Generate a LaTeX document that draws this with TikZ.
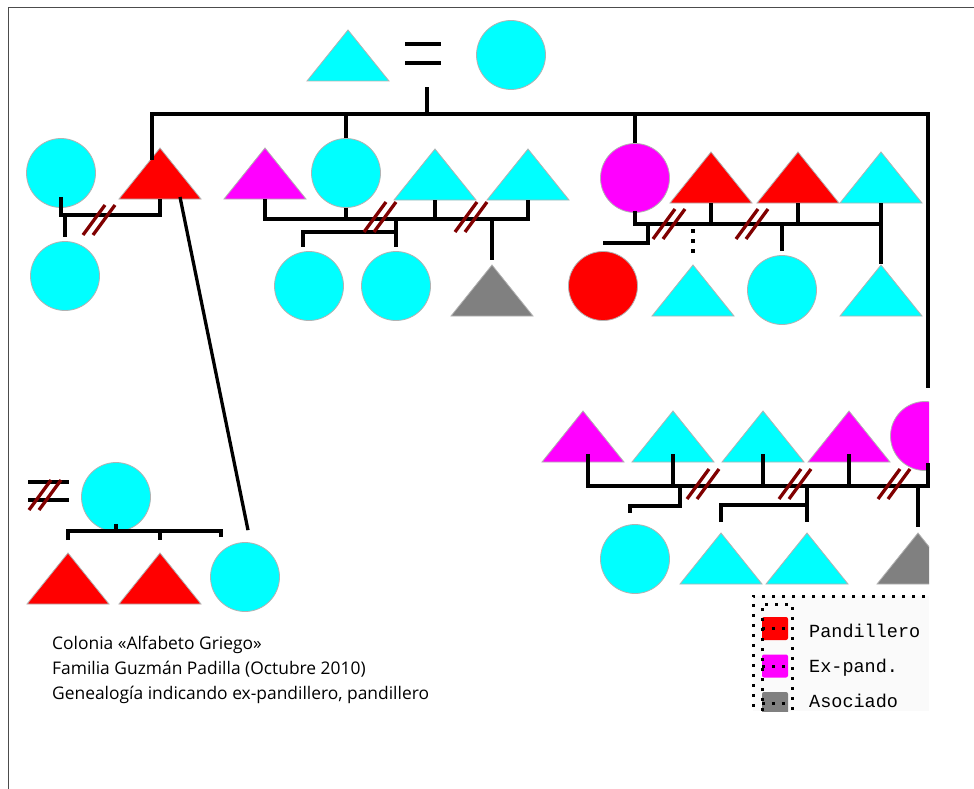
\documentclass[tikz,border=0pt]{standalone}
\usepackage{fontspec}
\usepackage{tikz}
\usetikzlibrary{calc}
\newfontfamily\capfont{Open Sans}
\newfontfamily\keyfont{Liberation Mono}
\definecolor{pcyan}{HTML}{00FFFF}
\definecolor{pred}{HTML}{FF0000}
\definecolor{pmag}{HTML}{FF00FF}
\definecolor{pgray}{HTML}{808080}
\definecolor{cutred}{HTML}{800000}

\tikzset{
    outline/.style={draw=gray!60, line width=0.8pt},
    person/.style={outline, circle, minimum size=69pt, inner sep=0pt},
    kin/.style={line width=3.3pt},
    cut/.style={line width=3.3pt, draw=cutred},
    legdots/.style={line width=3pt, dash pattern=on 3pt off 7pt},
    caption/.style={anchor=base west, inner sep=0pt, font=\capfont\fontsize{17.4}{20}\selectfont},
    keytext/.style={anchor=base west, inner sep=0pt, font=\keyfont\fontsize{18.5}{22}\selectfont},
    swatch/.style={fill=#1, rounded corners=2pt, minimum width=26pt, minimum height=23pt, inner sep=0pt},
    pics/split/.style={code={\draw[cut] (-16,15) -- (6,-15); \draw[cut] (-6,15) -- (16,-15);}}
}
% triangle: name, x, base y, colour
\newcommand{\persontri}[4]{%
    \draw[outline, fill=#4] (#2-41,#3) -- (#2,#3-51) -- (#2+41,#3) -- cycle;
    \coordinate (#1) at (#2,#3);
}

\begin{document}
\begin{tikzpicture}[x=1pt, y=-1pt]
    \useasboundingbox (0,0) rectangle (974,789);
    \draw[gray!60!black, line width=1pt] (8,789) -- (8,8) -- (974,8);

    % first couple
    \persontri{abuelo}{348}{81}{pcyan}
    \node[person, fill=pcyan] (abuela) at (511,55) {};
    \draw[kin, line width=3.6pt] (405,44) -- (441,44);
    \draw[kin, line width=3.6pt] (405,63) -- (441,63);

    % second generation
    \node[person, fill=pcyan] (g2a) at (61,173) {};
    \persontri{g2b}{160}{199}{pred}
    \persontri{g2c}{265}{199}{pmag}
    \node[person, fill=pcyan] (g2d) at (346,173) {};
    \persontri{g2e}{435}{200}{pcyan}
    \persontri{g2f}{528}{200}{pcyan}
    \node[person, fill=pmag] (g2g) at (635,178) {};
    \persontri{g2h}{711}{203}{pred}
    \persontri{g2i}{798}{203}{pred}
    \persontri{g2j}{881}{203}{pcyan}

    % third generation
    \node[person, fill=pcyan] (g3a) at (65,276) {};
    \node[person, fill=pcyan] (g3b) at (309,286) {};
    \node[person, fill=pcyan] (g3c) at (396,286) {};
    \persontri{g3d}{492}{316}{pgray}
    \node[person, fill=pred] (g3e) at (603,286) {};
    \persontri{g3f}{693}{316}{pcyan}
    \node[person, fill=pcyan] (g3g) at (782,290) {};
    \persontri{g3h}{881}{316}{pcyan}

    \persontri{g3i}{583}{462}{pmag}
    \persontri{g3j}{673}{462}{pcyan}
    \persontri{g3k}{763}{462}{pcyan}
    \persontri{g3l}{849}{462}{pmag}
    \node[person, fill=pcyan] (g4a) at (635,559) {};
    \persontri{g4b}{721}{584}{pcyan}
    \persontri{g4c}{807}{584}{pcyan}
    \begin{scope}
        \clip (0,380) rectangle (929,600);
        \node[person, fill=pmag] (g3m) at (925,436) {};
        \persontri{g4d}{918}{584}{pgray}
    \end{scope}

    \node[person, fill=pcyan] (g3n) at (116,497) {};
    \persontri{g4e}{68}{604}{pred}
    \persontri{g4f}{160}{604}{pred}
    \node[person, fill=pcyan] (g4g) at (245,577) {};

    % descent from the first couple
    \coordinate (top) at (427,114);
    \draw[kin] (top) -- ++(0,-27);
    \draw[kin] (g2b) ++(-8,-39) |- (top) -| (928,388);
    \draw[kin] (g2d.north |- top) -- (g2d.north);
    \draw[kin] (g2g.north |- top) -- (g2g.north);

    % left family
    \coordinate (m1) at (110,215);
    \draw[kin] (g2a.south) ++(0,-11) |- (m1) -| (g2b);
    \draw[kin] (g3a.north |- m1) -- ++(0,22);
    \pic at (99,220) {split};
    \draw[kin] (g2b) ++(20,-2) -- ($(g4g.north)+(3,-12)$);

    % middle family
    \coordinate (m2) at (400,219);
    \draw[kin] (g2c) |- (m2) -| (g2f);
    \draw[kin] (g2d.south) -- (g2d.south |- m2);
    \draw[kin] (g2e) -- (g2e |- m2);
    \coordinate (k2) at (350,232);
    \draw[kin] (g3c.north |- m2) -- ++(0,28);
    \draw[kin] (g3c.north |- k2) -| ($(g3b.north)+(-6,-4)$);
    \draw[kin] (g3d |- m2) -- ++(0,41);
    \pic at (380,217) {split};
    \pic at (471,217) {split};

    % right family
    \coordinate (m3) at (760,224);
    \draw[kin] (g2g.south) ++(0,-2) |- (m3) -| (g2j);
    \draw[kin] (g2h) -- (g2h |- m3);
    \draw[kin] (g2i) -- (g2i |- m3);
    \coordinate (k3) at (648,243);
    \draw[kin] (k3 |- m3) -- (k3) -- (g3e.north |- k3);
    \draw[kin, dash pattern=on 4pt off 6pt] (g3f |- m3) ++(0,5) -- ++(0,28);
    \draw[kin] (g3g.north |- m3) -- ++(0,27);
    \draw[kin] (g3h |- m3) -- ++(0,40);
    \pic at (669,224) {split};
    \pic at (752,224) {split};

    % lower right family
    \coordinate (m4) at (760,486);
    \draw[kin] (g3i) ++(5,-8) |- (m4) -| (928,463);
    \draw[kin] (g3j) ++(0,-8) -- (g3j |- m4);
    \draw[kin] (g3k) ++(0,-8) -- (g3k |- m4);
    \draw[kin] (g3l) ++(0,-8) -- (g3l |- m4);
    \coordinate (k4) at (680,506);
    \draw[kin] (k4 |- m4) -- (k4) -| ($(g4a.north)+(-5,-11)$);
    \coordinate (k5) at (721,505);
    \draw[kin] (g4c |- m4) -- ++(0,36);
    \draw[kin] (g4b) ++(0,-62) |- (g4c |- k5);
    \draw[kin] (g4d |- m4) -- ++(0,41);
    \pic at (703,484) {split};
    \pic at (795,484) {split};
    \pic at (894,484) {split};

    % lower left family
    \coordinate (m5) at (115,531);
    \draw[kin] (g3n.south) ++(0,-8) -- (g3n.south |- m5);
    \draw[kin] (g4e) ++(0,-64) |- (m5) -| (221,537);
    \draw[kin] (g4f |- m5) -- ++(0,9);
    \draw[kin] (28,482) -- (69,482);
    \draw[kin] (28,500) -- (69,500);
    \pic at (45,495) {split};

    % caption
    \foreach \i/\t in {0/{Colonia «Alfabeto Griego»}, 1/{Familia Guzmán Padilla (Octubre 2010)}, 2/{Genealogía indicando ex-pandillero, pandillero}}{
        \node[caption] (cap\i) at (52,649+25*\i) {\t};
    }

    % legend
    \begin{scope}
        \clip (740,590) rectangle (974,711);
        \fill[gray!4] (753,596) rectangle (929,711);
        \foreach \i/\c/\t in {0/pred/Pandillero, 1/pmag/Ex-pand., 2/pgray/Asociado}{
            \node[swatch=\c] (key\i) at (775,628.5+37.5*\i) {};
            \draw[legdots] (key\i.west) -- (key\i.east);
            \node[keytext] (lab\i) at (809,637+35*\i) {\t};
        }
        \draw[legdots] (925,596) -- (753,596) -- (753,711);
        \draw[legdots] (762,711) -- (762,604) -- (792,604) -- (792,711);
    \end{scope}
\end{tikzpicture}
\end{document}
